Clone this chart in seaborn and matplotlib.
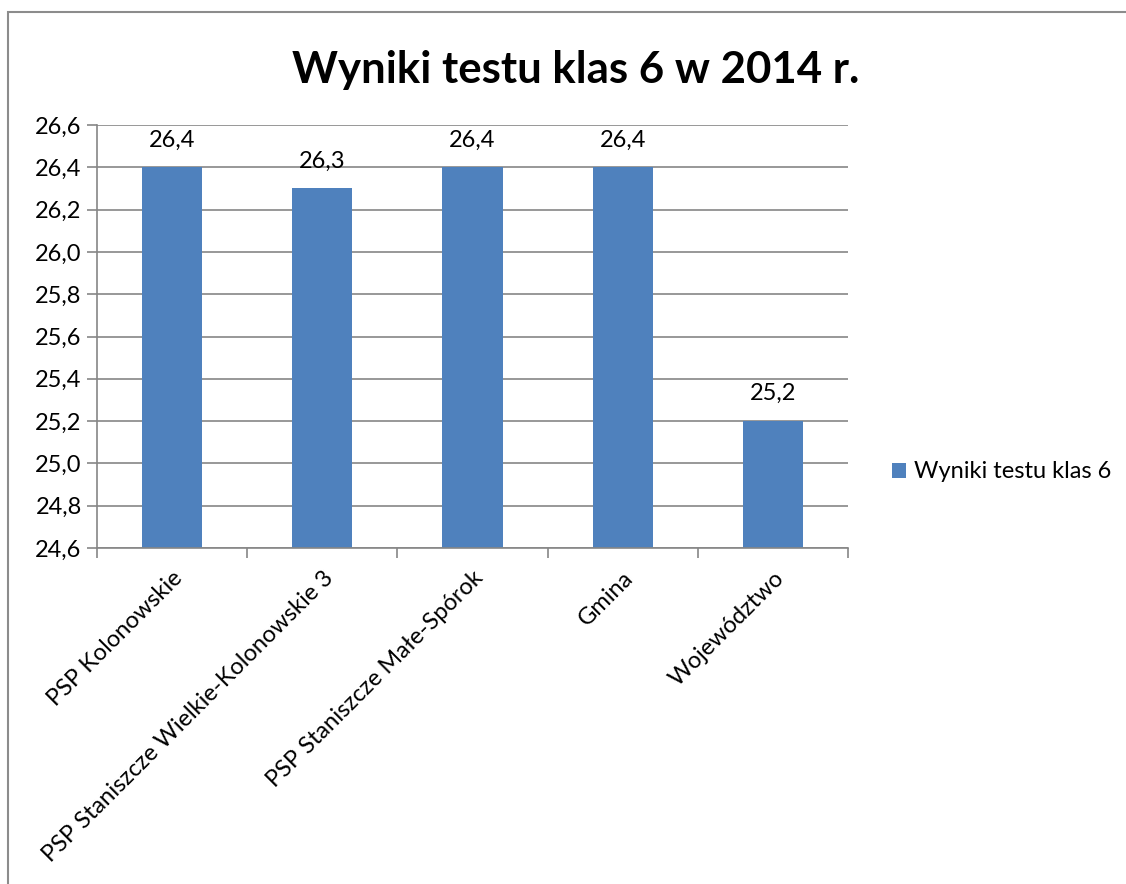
import numpy as np
import pandas as pd
import seaborn as sns
import matplotlib.pyplot as plt
from matplotlib.patches import Rectangle
from matplotlib.ticker import FuncFormatter, MultipleLocator

# data
categories = ["PSP Kolonowskie", "PSP Staniszcze Wielkie-Kolonowskie 3",
              "PSP Staniszcze Małe-Spórok", "Gmina", "Województwo"]
values = [26.4, 26.3, 26.4, 26.4, 25.2]
series_name = "Wyniki testu klas 6"
title = "Wyniki testu klas 6 w 2014 r."

df = pd.DataFrame({"kategoria": categories, "wynik": values})

sns.set_style("white")
plt.rcParams["font.family"] = ["Lato", "DejaVu Sans"]
plt.rcParams["text.color"] = "black"
plt.rcParams["xtick.labelcolor"] = "black"
plt.rcParams["ytick.labelcolor"] = "black"

fig = plt.figure(figsize=(11.26, 8.84), dpi=100)
ax = fig.add_axes([97 / 1126, 1 - 548 / 884, 751 / 1126, 423 / 884])

bar_color = "#4F81BD"
grid_color = "#868686"
fs = 17

sns.barplot(data=df, x="kategoria", y="wynik", color=bar_color, width=0.4,
            saturation=1, label=series_name, linewidth=0, ax=ax)

ax.set_ylim(24.6, 26.6)
ax.set_xlim(-0.5, len(categories) - 0.5)
ax.yaxis.set_major_locator(MultipleLocator(0.2))
ax.yaxis.set_major_formatter(FuncFormatter(lambda v, p: f"{v:.1f}".replace(".", ",")))
ax.set_axisbelow(True)
ax.grid(axis="y", color=grid_color, linewidth=1.2)
ax.set_xlabel("")
ax.set_ylabel("")

# x ticks between categories
ax.set_xticks(np.arange(-0.5, len(categories), 1.0))
ax.set_xticklabels([])
ax.set_xticks(np.arange(len(categories)), minor=True)
ax.set_xticklabels(categories, minor=True, rotation=45, ha="right",
                   rotation_mode="anchor", fontsize=fs, color="black")
ax.tick_params(axis="x", which="major", direction="out", length=7,
               color=grid_color, width=1.2, bottom=True)
ax.tick_params(axis="x", which="minor", length=0, pad=14)
ax.tick_params(axis="y", direction="out", length=7, color=grid_color,
               width=1.2, left=True, labelsize=fs, pad=4, labelcolor="black")

for side in ["top", "right"]:
    ax.spines[side].set_visible(False)
for side in ["left", "bottom"]:
    ax.spines[side].set_color(grid_color)
    ax.spines[side].set_linewidth(1.2)

# value labels
for i, v in enumerate(values):
    ax.text(i, v + 0.08, f"{v:.1f}".replace(".", ","), ha="center",
            va="bottom", fontsize=fs, color="black")

leg = ax.legend(loc="center left", bbox_to_anchor=(1.03, 0.18), frameon=False,
                fontsize=fs, handlelength=0.6, handleheight=0.6,
                handletextpad=0.35)
for t in leg.get_texts():
    t.set_color("black")

fig.text(0.511, 1 - 70 / 884, title, ha="center", va="center",
         fontsize=31.5, fontweight="bold", color="black")

# chart area border
fig.patches.append(Rectangle((8 / 1126, -0.2), 1.3, 1.2 - 12 / 884,
                             transform=fig.transFigure, fill=False,
                             edgecolor="#8c8c8c", linewidth=1.5))

fig.savefig("out.png", dpi=100)
